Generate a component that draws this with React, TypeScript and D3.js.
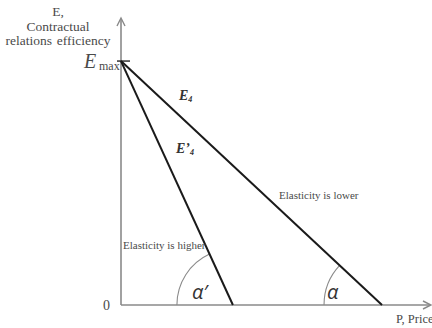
import React from "react";
import * as d3 from "d3";

const E_MAX = 85;
const P_INTERCEPT_E4 = 84.2;
const P_INTERCEPT_E4_PRIME = 36.1;
const AXIS_MAX = 100;
const yLabelLines = ["E,", "Contractual", "relations efficiency"];
const lowerLabel = "Elasticity is lower";
const higherLabel = "Elasticity is higher";

const W = 432;
const H = 328;

export default function App() {
  const x = d3.scaleLinear().domain([0, AXIS_MAX]).range([121, 431]);
  const y = d3.scaleLinear().domain([0, AXIS_MAX]).range([305, 18]);
  const line = d3.line<[number, number]>().x((d) => x(d[0])).y((d) => y(d[1]));

  const e4: [number, number][] = [[0, E_MAX], [P_INTERCEPT_E4, 0]];
  const e4p: [number, number][] = [[0, E_MAX], [P_INTERCEPT_E4_PRIME, 0]];

  const arcPath = (pInt: number, r: number) => {
    const cx = x(pInt), cy = y(0);
    const dx = x(0) - cx, dy = y(E_MAX) - cy;
    const a = Math.atan2(dy, dx);
    const sx = cx - r, sy = cy;
    const ex = cx + r * Math.cos(a), ey = cy + r * Math.sin(a);
    return `M${sx},${sy} A${r},${r} 0 0 1 ${ex},${ey}`;
  };

  const serif = "'Liberation Serif', 'Times New Roman', serif";
  const sans = "'Open Sans', 'Liberation Sans', Arial, sans-serif";
  const gray = "#8a8a8a";
  const textCol = "#4a4a4a";

  return (
    <svg width={W} height={H} style={{ position: "absolute", left: 0, top: 0, background: "#fff" }}>
      {/* axes */}
      <line x1={x(0)} y1={y(0)} x2={x(0)} y2={y(AXIS_MAX) + 1} stroke={gray} strokeWidth={1.6} />
      <path d={`M${x(0) - 4},${y(AXIS_MAX) + 8} L${x(0)},${y(AXIS_MAX)} L${x(0) + 4},${y(AXIS_MAX) + 8}`} fill="none" stroke={gray} strokeWidth={1.4} />
      <line x1={x(0)} y1={y(0)} x2={x(AXIS_MAX) - 1} y2={y(0)} stroke={gray} strokeWidth={1.6} />
      <path d={`M${x(AXIS_MAX) - 8},${y(0) - 4} L${x(AXIS_MAX)},${y(0)} L${x(AXIS_MAX) - 8},${y(0) + 4}`} fill="none" stroke={gray} strokeWidth={1.4} />
      {/* Emax tick */}
      <line x1={x(0) - 4} y1={y(E_MAX)} x2={x(0) + 9} y2={y(E_MAX)} stroke="#222" strokeWidth={1.4} />

      {/* angle arcs */}
      <path d={arcPath(P_INTERCEPT_E4_PRIME, 56)} fill="none" stroke={gray} strokeWidth={1.1} />
      <path d={arcPath(P_INTERCEPT_E4, 58)} fill="none" stroke={gray} strokeWidth={1.1} />

      {/* demand lines */}
      <path d={line(e4) || ""} fill="none" stroke="#1a1a1a" strokeWidth={2} />
      <path d={line(e4p) || ""} fill="none" stroke="#1a1a1a" strokeWidth={2} />

      {/* y label */}
      <g fontFamily={serif} fontSize={13.5} fill={textCol} textAnchor="middle" wordSpacing={1.5}>
        {yLabelLines.map((t, i) => (
          <text key={i} x={58} y={16 + i * 14.5}>{t}</text>
        ))}
      </g>
      <text x={84} y={68} fontFamily={serif} fontStyle="italic" fontSize={20} fill={textCol}>E</text>
      <text x={99} y={70} fontFamily={serif} fontSize={12} fill={textCol}>max</text>

      <text x={110} y={310} fontFamily={serif} fontSize={14} fill={textCol} textAnchor="end">0</text>
      <text x={396} y={323} fontFamily={serif} fontSize={12.5} fill={textCol}>P, Price</text>

      <text x={179} y={100} fontFamily={serif} fontStyle="italic" fontWeight="bold" fontSize={14} fill="#333">
        E<tspan fontSize={8} dy={2}>4</tspan>
      </text>
      <text x={176} y={153} fontFamily={serif} fontStyle="italic" fontWeight="bold" fontSize={14} fill="#333">
        E’<tspan fontSize={8} dy={2}>4</tspan>
      </text>

      <text x={279} y={199} fontFamily={serif} fontSize={11} fill={textCol}>{lowerLabel}</text>
      <text x={123} y={249} fontFamily={serif} fontSize={11} fill={textCol}>{higherLabel}</text>

      <text x={192} y={299} fontFamily={sans} fontStyle="italic" fontSize={20} fill="#333">α′</text>
      <text x={327} y={299} fontFamily={sans} fontStyle="italic" fontSize={20} fill="#333">α</text>
    </svg>
  );
}
